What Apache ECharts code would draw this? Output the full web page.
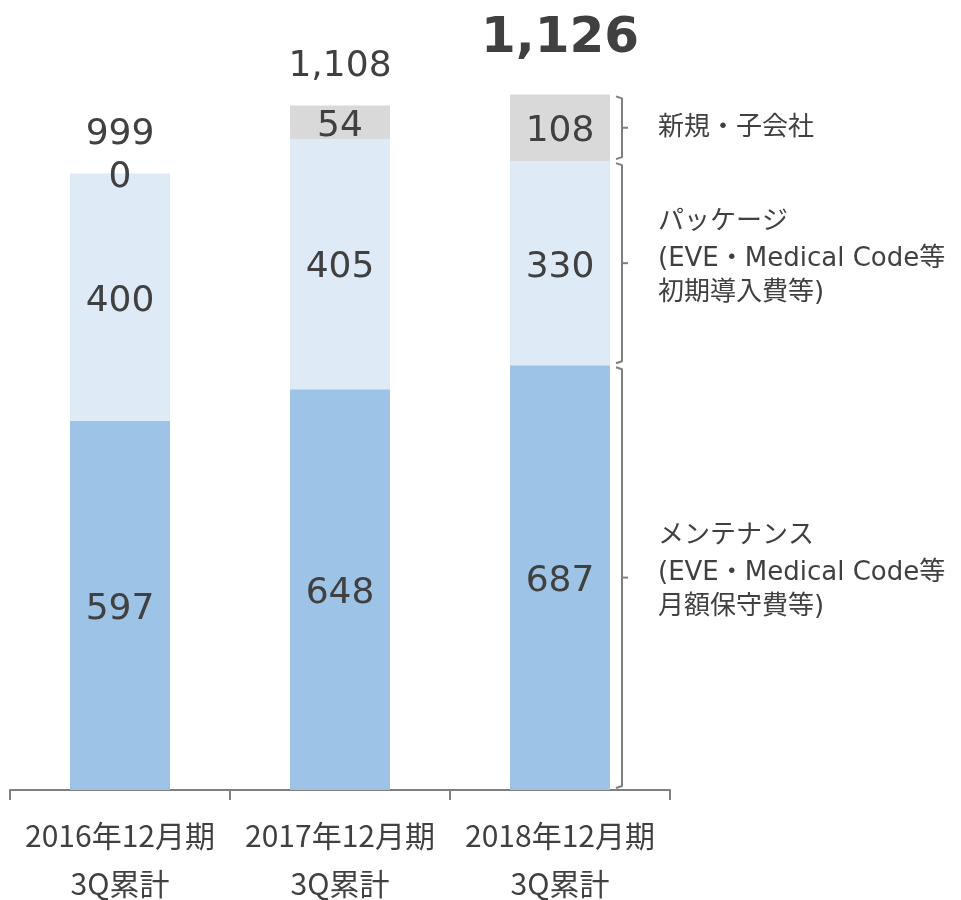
<!DOCTYPE html>
<html>
<head>
<meta charset="utf-8">
<script src="https://cdn.jsdelivr.net/npm/echarts@6/dist/echarts.min.js"></script>
<style>
  html, body { margin: 0; padding: 0; background: #fff; }
  #main { width: 961px; height: 900px; }
</style>
</head>
<body>
<div id="main"></div>
<script>
// 期
var categories = ['2016年12月期\n3Q累計', '2017年12月期\n3Q累計', '2018年12月期\n3Q累計'];
// メンテナンス
var maintenance = [597, 648, 687];
// パッケージ
var packageFee = [400, 405, 330];
// 新規・子会社
var subsidiary = [0, 54, 108];
// 合計
var totals = [999, 1108, 1126];
// 右側の説明（1行目は見出し）
var bracketLabels = [
  ['メンテナンス', '(EVE・Medical Code等', '月額保守費等)'],
  ['パッケージ', '(EVE・Medical Code等', '初期導入費等)'],
  ['新規・子会社']
];

var TEXT = '#404040';
var NUM_FONT = 'DejaVu Sans';
var JP_FONT = 'Noto Sans CJK JP';
var LINE = '#7f7f7f';

// 2018年の積み上げ区間（括弧用）
var last = categories.length - 1;
var segs = [maintenance[last], packageFee[last], subsidiary[last]];
var bracketData = [];
var acc = 0;
for (var i = 0; i < segs.length; i++) {
  bracketData.push([last, acc, acc + segs[i], i]);
  acc += segs[i];
}

var myChart = echarts.init(document.getElementById('main'));

function inLabel() {
  return {
    show: true,
    position: 'inside',
    offset: [0, 4],
    color: TEXT,
    fontFamily: NUM_FONT,
    fontSize: 36
  };
}

var totalData = totals.map(function(v, idx) {
  var item = { value: v };
  if (idx === last) {
    item.label = { fontSize: 50, fontWeight: 'bold', distance: 30 };
  }
  return item;
});

function bracketText(lines) {
  if (lines.length === 1) return lines[0];
  return '{h|' + lines[0] + '}\n' + lines.slice(1).join('\n');
}

myChart.setOption({
  animation: false,
  grid: { left: 10, right: 291, top: 48, bottom: 110, outerBoundsMode: 'none', containLabel: false },
  xAxis: {
    type: 'category',
    data: categories,
    axisLine: { lineStyle: { color: LINE, width: 2 } },
    axisTick: { show: true, interval: 0, length: 10, lineStyle: { color: LINE, width: 2 } },
    axisLabel: {
      interval: 0,
      hideOverlap: false,
      color: TEXT,
      fontFamily: JP_FONT,
      fontSize: 30,
      lineHeight: 48,
      margin: 22
    }
  },
  yAxis: {
    type: 'value',
    min: 0,
    max: 1200,
    show: false
  },
  series: [
    {
      name: 'メンテナンス',
      type: 'bar',
      stack: 'sales',
      barWidth: 100,
      data: maintenance,
      itemStyle: { color: '#9DC3E6' },
      label: inLabel()
    },
    {
      name: 'パッケージ',
      type: 'bar',
      stack: 'sales',
      data: packageFee,
      itemStyle: { color: '#DEEBF7' },
      label: inLabel()
    },
    {
      name: '新規・子会社',
      type: 'bar',
      stack: 'sales',
      data: subsidiary,
      itemStyle: { color: '#D9D9D9' },
      label: inLabel()
    },
    {
      // 合計ラベル用（透明）
      name: '合計',
      type: 'bar',
      barWidth: 100,
      barGap: '-100%',
      z: 0,
      data: totalData,
      itemStyle: { color: 'rgba(0,0,0,0)' },
      label: {
        show: true,
        position: 'top',
        distance: 20,
        color: TEXT,
        fontFamily: NUM_FONT,
        fontSize: 36,
        formatter: function(p) {
          return p.value.toLocaleString('en-US');
        }
      }
    },
    {
      // 右側の括弧と説明
      type: 'custom',
      data: bracketData,
      clip: false,
      renderItem: function(params, api) {
        var cat = api.value(0);
        var x = api.coord([cat, 0])[0] + 50 + 12;
        var yBot = api.coord([cat, api.value(1)])[1] - 2;
        var yTop = api.coord([cat, api.value(2)])[1] + 2;
        var mid = (yTop + yBot) / 2;
        var lines = bracketLabels[api.value(3)];
        var lineStyle = { stroke: LINE, lineWidth: 2, fill: null, lineJoin: 'round' };
        return {
          type: 'group',
          children: [
            {
              type: 'polyline',
              shape: { points: [[x - 6, yTop], [x, yTop + 2], [x, yBot - 2], [x - 6, yBot]] },
              style: lineStyle
            },
            {
              type: 'line',
              shape: { x1: x, y1: mid, x2: x + 6, y2: mid },
              style: lineStyle
            },
            {
              type: 'text',
              x: x + 36,
              y: lines.length > 1 ? mid - 4 : mid,
              style: {
                text: bracketText(lines),
                fill: TEXT,
                fontFamily: NUM_FONT + ', ' + JP_FONT,
                fontSize: 26,
                lineHeight: 34,
                verticalAlign: 'middle',
                align: 'left',
                rich: {
                  h: {
                    fill: TEXT,
                    fontFamily: NUM_FONT + ', ' + JP_FONT,
                    fontSize: 26,
                    lineHeight: 34,
                    padding: [0, 0, 6, 0]
                  }
                }
              }
            }
          ]
        };
      }
    }
  ]
});
</script>
</body>
</html>
